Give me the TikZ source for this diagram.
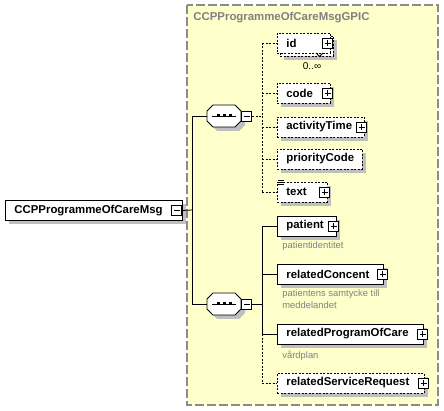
\documentclass[tikz,border=0pt]{standalone}
\usepackage{fontspec}
\setmainfont{Liberation Sans}
\usetikzlibrary{positioning}
\definecolor{groupfill}{RGB}{255,255,204}
\definecolor{groupline}{RGB}{140,140,140}
\definecolor{notegray}{RGB}{128,128,128}
\tikzset{
  elem/.style={draw, fill=white, anchor=west, minimum height=20pt, inner xsep=9pt,
    inner ysep=0pt, align=left, font=\fontsize{11.4}{13}\selectfont\bfseries},
  optional/.style={dash pattern=on 2pt off 1.5pt},
  iconbox/.style={draw, fill=white, minimum size=10pt, inner sep=0pt},
  minusbox/.style={iconbox, path picture={
    \draw ([xshift=2pt]path picture bounding box.west) -- ([xshift=-2pt]path picture bounding box.east);}},
  plusbox/.style={iconbox, path picture={
    \draw ([xshift=2pt]path picture bounding box.west) -- ([xshift=-2pt]path picture bounding box.east);
    \draw ([yshift=-2pt]path picture bounding box.north) -- ([yshift=2pt]path picture bounding box.south);}},
  compositor/.style={minimum width=34pt, minimum height=22pt, inner sep=0pt},
  note/.style={anchor=north west, inner sep=0pt, text=notegray, align=left,
    font=\fontsize{9.4}{12}\selectfont}
}
% element box with its shadow: [options]{name}{x}{y}{text width}{label}
\newcommand\elembox[6][]{%
  \fill [black!25] (#3+4, #4-6) rectangle (#3+#5+22, #4+14);
  \node [elem, #1, text width=#5pt] (#2) at (#3, #4) {#6};}
% octagon outline of a compositor
\def\octpath{(-11,-11) -- (11,-11) -- (17,-5) -- (17,5) -- (11,11) -- (-11,11) -- (-17,5) -- (-17,-5) -- cycle}
\begin{document}
\begin{tikzpicture}[x=1pt, y=-1pt, line width=0.8pt]
    \useasboundingbox (0, 0) rectangle (444, 411);
    % group frame
    \draw [groupline, fill=groupfill, line width=1.2pt, dash pattern=on 9pt off 3pt] (187, 5) rectangle (438, 405);
    \node [anchor=west, inner sep=0pt, text=notegray, font=\fontsize{11.4}{13}\selectfont\bfseries] (grouptitle) at (193, 18) {CCPProgrammeOfCareMsgGPIC};
    % root element
    \elembox{root}{5}{210.5}{159}{CCPProgrammeOfCareMsg}
    \node [minusbox] (rootm) at ([xshift=-6pt]root.east) {};
    % sequences
    \foreach \cy in {116, 304} {
      \fill [black!25, shift={(228, \cy+4)}] \octpath;
      \draw [fill=white, shift={(224, \cy)}] \octpath;
      \draw (212, \cy) -- (236, \cy);
      \foreach \dx in {218, 224, 230}
        \fill (\dx-1.5, \cy-1.5) rectangle (\dx+1.5, \cy+1.5);
    }
    \node [compositor] (seqA) at (224, 116) {};
    \node [minusbox, right=0pt of seqA] (seqAm) {};
    \node [compositor] (seqB) at (224, 304) {};
    \node [minusbox, right=0pt of seqB] (seqBm) {};
    % trunk
    \coordinate (trunk) at (192, 210);
    \draw (rootm.east) -- (trunk);
    \draw (trunk |- seqA.west) -- (trunk |- seqB.west);
    \draw (trunk |- seqA.west) -- (seqA.west);
    \draw (trunk |- seqB.west) -- (seqB.west);
    % first sequence children
    \elembox[optional]{idback}{280}{46}{35}{\phantom{id}}
    \node [elem, optional, text width=35pt] (id) at (277, 43) {id};
    \node [plusbox] (idp) at ([xshift=-3pt]id.east) {};
    \draw (316, 53) -- (319.5, 56.5) -- (323, 53);
    \node [inner sep=0pt, font=\fontsize{10}{12}\selectfont] (idcard) at (312, 66) {0..∞};
    \elembox[optional]{code}{277}{93}{35}{code}
    \node [plusbox] (codep) at ([xshift=-3pt]code.east) {};
    \elembox[optional]{activityTime}{277}{127}{69}{activityTime}
    \node [plusbox] (activityTimep) at ([xshift=-3pt]activityTime.east) {};
    \elembox[optional]{priorityCode}{277}{159}{67}{priorityCode}
    \elembox[optional]{text}{277}{192}{32}{text}
    \node [plusbox] (textp) at ([xshift=-3pt]text.east) {};
    \draw [line width=0.6pt] (278, 180.5) -- (284, 180.5) (278, 182.5) -- (284, 182.5) (278, 184.5) -- (284, 184.5);
    % first sequence connectors
    \coordinate (busA) at (262, 116);
    \draw [optional] (seqAm.east) -- (busA);
    \draw [optional] (busA |- id.west) -- (busA |- text.west);
    \foreach \n in {id, code, activityTime, priorityCode, text}
      \draw [optional] (busA |- \n.west) -- (\n.west);
    % second sequence children
    \elembox{patient}{277}{226}{41}{patient}
    \node [plusbox] (patientp) at ([xshift=-3pt]patient.east) {};
    \node [note] (patientnote) at (282, 241) {patientidentitet};
    \elembox{relatedConcent}{277}{274}{88}{relatedConcent}
    \node [plusbox] (relatedConcentp) at ([xshift=-1pt]relatedConcent.east) {};
    \node [note] (relatedConcentnote) at (282, 289) {patientens samtycke till\\meddelandet};
    \elembox{relatedProgramOfCare}{277}{334}{128}{relatedProgramOfCare}
    \node [plusbox] (relatedProgramOfCarep) at ([xshift=-1pt]relatedProgramOfCare.east) {};
    \node [note] (relatedProgramOfCarenote) at (282, 351) {vårdplan};
    \elembox[optional]{relatedServiceRequest}{277}{383}{129}{relatedServiceRequest}
    \node [plusbox] (relatedServiceRequestp) at ([xshift=-1pt]relatedServiceRequest.east) {};
    % second sequence connectors
    \coordinate (busB) at (262, 304);
    \draw (seqBm.east) -- (busB);
    \draw (busB |- patient.west) -- (busB |- relatedProgramOfCare.west);
    \draw [optional] (busB |- relatedProgramOfCare.west) -- (busB |- relatedServiceRequest.west);
    \foreach \n in {patient, relatedConcent, relatedProgramOfCare}
      \draw (busB |- \n.west) -- (\n.west);
    \draw [optional] (busB |- relatedServiceRequest.west) -- (relatedServiceRequest.west);
\end{tikzpicture}
\end{document}
